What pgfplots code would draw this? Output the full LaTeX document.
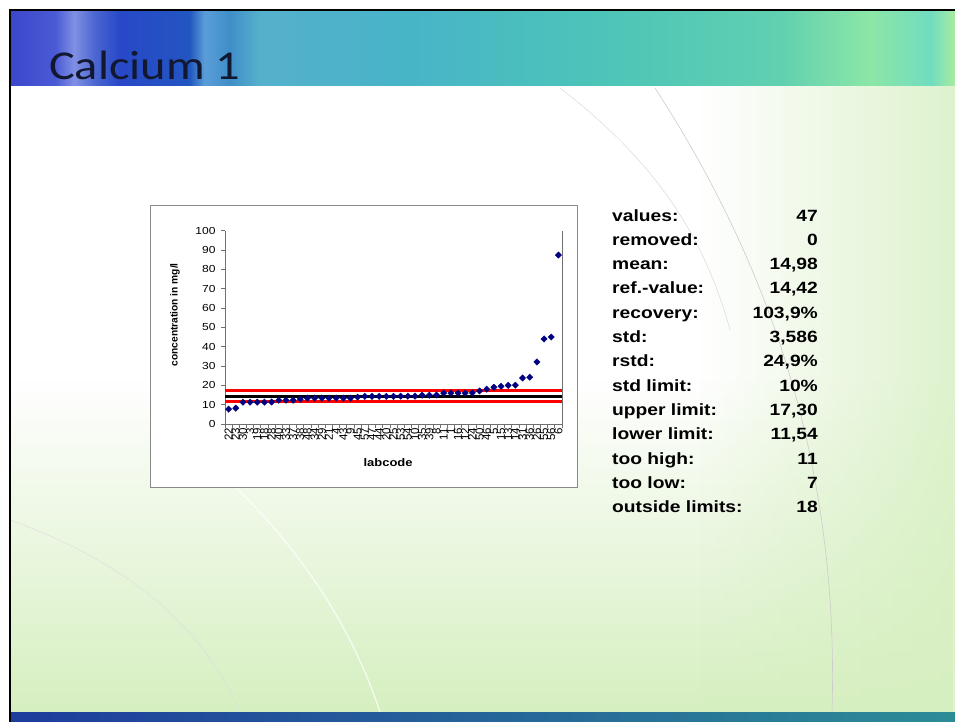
\documentclass[border=0pt]{standalone}
\usepackage{fontspec}
\setmainfont{Liberation Sans}
\newfontfamily\statfont[FakeStretch=1.18]{Liberation Sans}
\newfontfamily\titlefont[FakeStretch=1.18]{Carlito}
\usepackage{pgfplots}
\usepackage{pgfplotstable}
\usetikzlibrary{fadings}
\pgfplotsset{compat=1.18}

% slide palette
\definecolor{bA}{HTML}{3C46CC}
\definecolor{bB}{HTML}{4A5AD4}
\definecolor{bC}{HTML}{8090E4}
\definecolor{bD}{HTML}{4A66D0}
\definecolor{bE}{HTML}{2848C8}
\definecolor{bF}{HTML}{2256C0}
\definecolor{bG}{HTML}{5A9ED8}
\definecolor{bH}{HTML}{3F8EC8}
\definecolor{bI}{HTML}{55B0CC}
\definecolor{bJ}{HTML}{48B4C8}
\definecolor{bK}{HTML}{4CC4B8}
\definecolor{bL}{HTML}{60D0B0}
\definecolor{bM}{HTML}{8CE6A6}
\definecolor{bN}{HTML}{70DCC0}
\definecolor{bO}{HTML}{A8ECA0}
\definecolor{botA}{HTML}{1E3C9C}
\definecolor{botB}{HTML}{2C8C96}
\definecolor{bodyGreen}{HTML}{D6EFC0}
\definecolor{titleInk}{HTML}{111830}
\definecolor{axisGray}{HTML}{707070}
\definecolor{boxGray}{HTML}{8A8A8A}
\definecolor{navy}{HTML}{000080}

\pgfdeclarehorizontalshading{titleband}{100bp}{
  color(0bp)=(bA); color(25bp)=(bA); color(27.4bp)=(bB); color(28.4bp)=(bC);
  color(29.5bp)=(bD); color(30.8bp)=(bE); color(34.5bp)=(bF); color(35.3bp)=(bG);
  color(36.6bp)=(bH); color(38.2bp)=(bI); color(45.6bp)=(bJ); color(56.2bp)=(bK);
  color(65.7bp)=(bL); color(70.5bp)=(bM); color(73.7bp)=(bN); color(75bp)=(bO);
  color(100bp)=(bO)}

\pgfplotstableread{
x y
1 7.7
2 8.2
3 11.3
4 11.3
5 11.3
6 11.3
7 11.4
8 12.3
9 12.3
10 12.3
11 12.9
12 13.4
13 13.4
14 13.4
15 13.4
16 13.4
17 13.4
18 13.4
19 13.9
20 14.3
21 14.3
22 14.3
23 14.3
24 14.3
25 14.4
26 14.4
27 14.4
28 14.9
29 14.9
30 15.0
31 16.0
32 16.0
33 16.0
34 16.0
35 16.1
36 17.1
37 18.0
38 19.0
39 19.5
40 20.0
41 20.1
42 23.8
43 24.2
44 32.1
45 44.0
46 45.0
47 87.4
}\calcium

\begin{document}
\begin{tikzpicture}
\useasboundingbox (0pt,0pt) rectangle (955pt,-722pt);
\fill[white] (0pt,0pt) rectangle (955pt,-722pt);

% slide body with soft green wash
\fill[bodyGreen, path fading=north] (10pt,-380pt) rectangle (955pt,-712pt);
\fill[bodyGreen, path fading=west, opacity=0.8] (700pt,-86pt) rectangle (955pt,-712pt);
\draw[gray!40, line width=0.6pt] (655pt,-88pt) .. controls (760pt,-250pt) and (840pt,-450pt) .. (832pt,-712pt);
\draw[gray!30, line width=0.5pt] (560pt,-88pt) .. controls (640pt,-150pt) and (700pt,-220pt) .. (730pt,-330pt);
\draw[white, line width=1.2pt, opacity=0.8] (10pt,-340pt) .. controls (200pt,-420pt) and (330pt,-560pt) .. (380pt,-712pt);
\draw[gray!25, line width=0.5pt] (10pt,-520pt) .. controls (120pt,-560pt) and (200pt,-620pt) .. (240pt,-712pt);

% title band, footer strip and frame
\shade[shading=titleband] (10pt,-10pt) rectangle (955pt,-86pt);
\shade[left color=botA, right color=botB] (10pt,-712pt) rectangle (955pt,-722pt);
\draw[black, line width=2pt] (10pt,-722pt) -- (10pt,-10pt) -- (955pt,-10pt);
\node[anchor=base west, inner sep=0, text=titleInk,
      font=\titlefont\fontsize{41}{41}\selectfont] at (49pt,-80pt) {Calcium 1};

% chart frame
\draw[boxGray, fill=white, line width=0.8pt] (150pt,-205pt) rectangle (577pt,-487pt);

\begin{axis}[
  at={(225pt,-424pt)}, anchor=south west,
  scale only axis, width=337pt, height=193.3pt,
  xmin=0.5, xmax=47.5, ymin=0, ymax=100,
  axis x line*=bottom, axis y line*=left,
  axis line style={draw=axisGray, line width=0.8pt},
  tick style={draw=axisGray, line width=0.8pt},
  tick align=outside, major tick length=4pt,
  ytick={0,10,...,100},
  xtick={0.5,1.5,...,47.5}, xticklabels={},
  extra x ticks={1,2,...,47},
  extra x tick labels={22,23,30,3,19,18,28,40,33,37,38,48,34,29,21,4,43,9,45,57,47,44,20,25,53,54,10,35,39,8,11,1,16,12,24,50,46,5,15,13,14,31,36,26,55,56,6},
  extra x tick style={major tick length=0pt, xticklabel shift=3pt,
    tick label style={rotate=90, anchor=east, inner sep=1pt,
      font=\fontsize{11.5}{11.5}\selectfont}},
  /pgf/number format/assume math mode=true,
  yticklabel style={font=\statfont\fontsize{10.2}{10}\selectfont, xshift=-2pt},
  ylabel={concentration in mg/l},
  ylabel style={at={(axis description cs:-0.148,0.565)}, anchor=center,
    font=\bfseries\fontsize{10.2}{10}\selectfont},
  xlabel={labcode},
  xlabel style={at={(axis description cs:0.484,-0.197)}, anchor=center,
    font=\statfont\bfseries\fontsize{11}{11}\selectfont},
  clip=false,
]
\draw[axisGray, line width=0.8pt] (rel axis cs:1,0) -- (rel axis cs:1,1);
% limits: upper, reference value, lower
\addplot[red, line width=2.8pt] coordinates {(0.5,17.30) (47.5,17.30)};
\addplot[red, line width=2.8pt] coordinates {(0.5,11.54) (47.5,11.54)};
\addplot[black, line width=2.8pt] coordinates {(0.5,14.42) (47.5,14.42)};
% lab results, sorted
\addplot[only marks, mark=diamond*, mark size=3.2pt, color=navy,
  mark options={xscale=1.3}] table[x=x, y=y] {\calcium};
\end{axis}

% summary statistics
\foreach \lab/\val [count=\i from 0] in {
  values:/47, removed:/0, mean:/{14,98}, ref.-value:/{14,42},
  recovery:/{103,9\%}, std:/{3,586}, rstd:/{24,9\%}, std limit:/{10\%},
  upper limit:/{17,30}, lower limit:/{11,54}, too high:/11, too low:/7,
  outside limits:/18}{
  \node[anchor=base west, inner sep=0, font=\statfont\bfseries\fontsize{16.3}{16}\selectfont]
    at (612pt,{-221pt-24.3pt*\i}) {\lab};
  \node[anchor=base east, inner sep=0, font=\statfont\bfseries\fontsize{16.3}{16}\selectfont]
    at (818pt,{-221pt-24.3pt*\i}) {\val};
}
\end{tikzpicture}
\end{document}
